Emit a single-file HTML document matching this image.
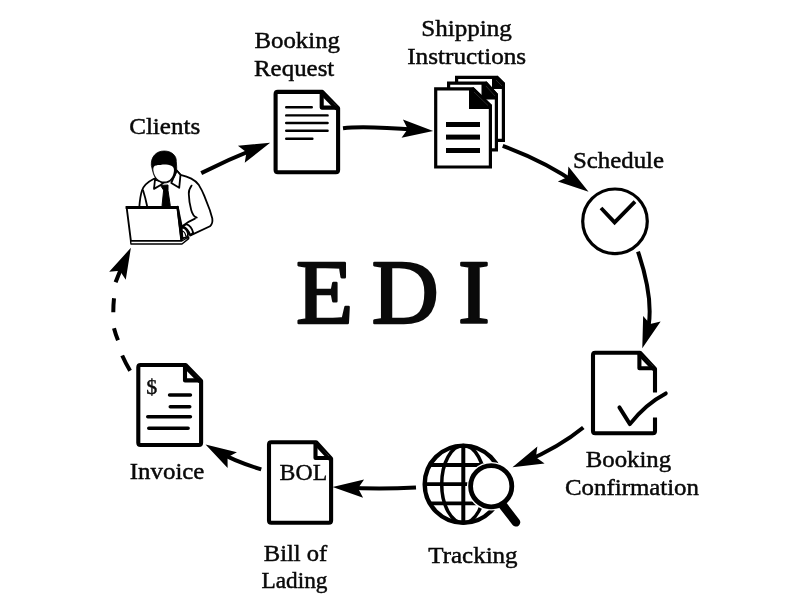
<!DOCTYPE html>
<html lang="en">
<head>
<meta charset="utf-8">
<title>EDI</title>
<style>
html,body{margin:0;padding:0;background:#fff;}
body{width:800px;height:600px;overflow:hidden;}
svg{display:block;will-change:transform;}
text{font-family:"Liberation Serif","Times New Roman",serif;fill:#0a0a0a;}
.lbl{font-size:24px;stroke:#000;stroke-width:0.45;}
.doc{fill:#fff;stroke:#000;stroke-width:4.1;stroke-linejoin:round;}
.ln{fill:none;stroke:#000;stroke-linecap:round;}
.arw{fill:none;stroke:#000;stroke-width:4;}
</style>
</head>
<body>
<svg width="800" height="600" viewBox="0 0 800 600">
<defs>
<marker id="ah" markerUnits="userSpaceOnUse" markerWidth="40" markerHeight="24" refX="20" refY="12" orient="auto" overflow="visible">
<path d="M32,12 L1,2.8 L6.5,12 L1,21.2 Z" fill="#000"/>
</marker>
</defs>
<rect width="800" height="600" fill="#fff"/>

<!-- ===== labels ===== -->
<g class="lbl">
<text x="129.2" y="134" textLength="71" lengthAdjust="spacingAndGlyphs">Clients</text>
<text x="254.5" y="47.6" textLength="85.5" lengthAdjust="spacingAndGlyphs">Booking</text>
<text x="254" y="75.5" textLength="80.3" lengthAdjust="spacingAndGlyphs">Request</text>
<text x="421.3" y="35.6" textLength="90.5" lengthAdjust="spacingAndGlyphs">Shipping</text>
<text x="407.2" y="64" textLength="119" lengthAdjust="spacingAndGlyphs">Instructions</text>
<text x="573" y="168.2" textLength="91" lengthAdjust="spacingAndGlyphs">Schedule</text>
<text x="585.7" y="467.1" textLength="85.5" lengthAdjust="spacingAndGlyphs">Booking</text>
<text x="565" y="495.2" textLength="134" lengthAdjust="spacingAndGlyphs">Confirmation</text>
<text x="428.3" y="563.2" textLength="89.3" lengthAdjust="spacingAndGlyphs">Tracking</text>
<text x="263.8" y="561.2" textLength="63.5" lengthAdjust="spacingAndGlyphs">Bill of</text>
<text x="261.5" y="587.75" textLength="66" lengthAdjust="spacingAndGlyphs">Lading</text>
<text x="129.8" y="479.2" textLength="74.6" lengthAdjust="spacingAndGlyphs">Invoice</text>
</g>

<!-- ===== EDI ===== -->
<g font-size="91px" stroke="#0a0a0a" stroke-width="2.5" stroke-linejoin="round">
<text transform="translate(296,323) scale(1.03,1)">E</text>
<text transform="translate(371.8,323) scale(1.02,1)">D</text>
<text transform="translate(458,323) scale(1.05,1)">I</text>
</g>

<!-- ===== arrows ===== -->
<g class="arw">
<path d="M201.25,173.1 Q229.3,159 259,147.2" marker-end="url(#ah)"/>
<path d="M343,128.2 C365,125.6 401,128.6 421.2,130.1" marker-end="url(#ah)"/>
<path d="M502.75,145.9 Q545,161.3 578.7,184.85" marker-end="url(#ah)"/>
<path d="M638,251.6 Q656.2,305.5 646,336.8" marker-end="url(#ah)"/>
<path d="M583.3,427.5 Q559.2,447.2 523.5,462.5" marker-end="url(#ah)"/>
<path d="M416,487.5 Q380,489.5 344.6,487.6" marker-end="url(#ah)"/>
<path d="M261.25,469.4 Q233.8,461 215.9,450.5" marker-end="url(#ah)"/>
<path d="M130.1,370.7 Q125.5,363 122.2,355.5 M118,340.3 Q115.5,334 114,328.2 M113.3,312.3 Q113.3,305 114,298.3"/>
<path d="M115.6,282.3 Q119.5,271.5 125.7,258.6" marker-end="url(#ah)"/>
</g>

<!-- ===== Booking Request doc ===== -->
<g>
<path class="doc" d="M277.8,91.9 H322.3 L338.1,108.19999999999999 V170.10000000000002 Q338.1,172.3 335.90000000000003,172.3 H277.8 Q275.6,172.3 275.6,170.10000000000002 V94.10000000000001 Q275.6,91.9 277.8,91.9 Z"/>
<path class="doc" d="M321.7,91.9 V107.6 H338.1" fill="none" stroke-linejoin="miter"/>
<path d="M321.3,93.1 L336.9,109.0" fill="none" stroke="#000" stroke-width="3.6"/>
<g class="ln" stroke-width="2.4">
<path d="M286.2,107.2 H311.8 M286.2,115.4 H327.6 M286.2,123 H327.6 M286.2,130.7 H327.6 M286.2,138.8 H312.4"/>
</g>
</g>

<!-- ===== Shipping Instructions docs ===== -->
<g stroke="#000" stroke-width="3.2" fill="#fff" stroke-linejoin="miter">
<path d="M456.6,77.4 H497 L503.4,83.6 V140.3 H456.6 Z"/>
<path d="M492,77.4 L497.6,75.8 L505,82.9 V89 H492 Z" fill="#000" stroke="none"/>
<path d="M448.6,83.1 H486 L496.4,94.6 V149.9 H448.6 Z"/>
<path d="M481.5,83 L486.6,81.5 L498,93.9 V99.5 H481.5 Z" fill="#000" stroke="none"/>
<path d="M435.7,88.8 H473 L490.4,105.6 V167 H435.7 Z"/>
<path d="M469,88.8 L473.6,87.2 L492,104.9 V109 H469 Z" fill="#000" stroke="none"/>
</g>
<g stroke="#3a3a3a" stroke-width="0.7" fill="none">
<path d="M474,92 L488,105.5 M486,86 L495,96 M496,80 L502,86"/>
</g>
<g fill="#000">
<rect x="446" y="122" width="34" height="5"/>
<rect x="446" y="134.6" width="34" height="5"/>
<rect x="446" y="148" width="34" height="5"/>
</g>

<!-- ===== Schedule clock ===== -->
<circle cx="615" cy="221.3" r="32.3" fill="#fff" stroke="#000" stroke-width="3.2"/>
<path d="M601,208 L614.6,222.4 L635,201.6" fill="none" stroke="#000" stroke-width="3.8"/>

<!-- ===== Booking Confirmation doc ===== -->
<g>
<path class="doc" d="M655,392.5 V368.8 L640.0,352.7 H595.2 Q593,352.7 593,354.9 V431.0 Q593,433.2 595.2,433.2 H652.8 Q655,433.2 655,431.0 V417.5" fill="none"/>
<path class="doc" d="M639.4,352.7 V368.2 H655" fill="none" stroke-linejoin="miter"/>
<path d="M639.0,353.9 L653.8,369.6" fill="none" stroke="#000" stroke-width="3.6"/>
<path d="M619.4,407.4 L629.9,424.1 Q645.2,404.2 665.8,393.4" fill="none" stroke="#000" stroke-width="3.9" stroke-linecap="round" stroke-linejoin="round"/>
</g>

<!-- ===== Tracking globe ===== -->
<g fill="none" stroke="#000">
<circle cx="463.3" cy="484.2" r="38.6" stroke-width="4.4"/>
<ellipse cx="463.3" cy="484.2" rx="21.6" ry="38.6" stroke-width="3.5"/>
<path d="M463.3,445 V523" stroke-width="4"/>
<path d="M424.5,484.2 H502 M431,465 H496 M431,503.4 H496" stroke-width="3.8"/>
</g>
<circle cx="491.2" cy="486.2" r="21.8" fill="#fff" stroke="#fff" stroke-width="5"/>
<circle cx="491.2" cy="486.2" r="20.6" fill="#fff" stroke="#000" stroke-width="4.8"/>
<path d="M503,505.5 L516,522.3" stroke="#000" stroke-width="8.6" stroke-linecap="round"/>

<!-- ===== BOL doc ===== -->
<g>
<path class="doc" d="M271.2,442.2 H316.1 L331.1,458.6 V520.5 Q331.1,522.7 328.90000000000003,522.7 H271.2 Q269,522.7 269,520.5 V444.4 Q269,442.2 271.2,442.2 Z"/>
<path class="doc" d="M315.5,442.2 V458 H331.1" fill="none" stroke-linejoin="miter"/>
<path d="M315.1,443.4 L329.9,459.4" fill="none" stroke="#000" stroke-width="3.6"/>
<text x="279.6" y="480.4" font-size="23.3px" textLength="47.6" lengthAdjust="spacingAndGlyphs" stroke="#000" stroke-width="0.4">BOL</text>
</g>

<!-- ===== Invoice doc ===== -->
<g>
<path class="doc" d="M140.5,365 H185.6 L201.1,381.0 V442.8 Q201.1,445 198.9,445 H140.5 Q138.3,445 138.3,442.8 V367.2 Q138.3,365 140.5,365 Z"/>
<path class="doc" d="M185,365 V380.4 H201.1" fill="none" stroke-linejoin="miter"/>
<path d="M184.6,366.2 L199.9,381.8" fill="none" stroke="#000" stroke-width="3.6"/>
<text x="146.2" y="393.9" font-size="22px" stroke="#000" stroke-width="0.4">$</text>
<g class="ln" stroke-width="3.6">
<path d="M169.6,395 H190.4 M170.3,406.7 H189.7 M147.8,416.7 H190.4 M148.8,428.3 H188.1"/>
</g>
</g>

<!-- ===== Client (person with laptop) ===== -->
<g fill="#fff" stroke="#000" stroke-width="1.8" stroke-linejoin="round" stroke-linecap="round">
<!-- body / shirt -->
<path d="M139.3,207 C140,198 141,193.5 142,190.5 C143.5,186 147,182.3 154,178.8 L176.7,170.5 L180.5,174.8 C185,176 188,177 191.3,178.6 C195,180.5 197.3,182.8 198.9,185.1 C201,188.5 203,192.5 204.3,195.9 L209.8,210 L212.3,218.5 C212.8,222 212,224.5 210,226.2 L190.5,235.4 L181.9,227 L177.75,207 Z"/>
<!-- inner arm lines -->
<path d="M143.1,190.5 Q145.5,198 147.1,206" fill="none"/>
<path d="M191.6,185.6 Q188.5,190 188.8,194 Q189,202 191.2,210 Q193,216.5 196.8,217.6" fill="none"/>
<path d="M195,218.6 Q188,221.5 181.9,226.5" fill="none"/>
<!-- cuff & hand -->
<path d="M186.2,224.2 Q191.5,226 193.2,232.8 L190.3,235.3 Q188.5,229 183,226.2 Z"/>
<path d="M181.6,227.4 Q186.5,228 188,233.5 Q188.3,236 186.5,237 L182.5,238.5 Z"/>
<path d="M182,231 Q185,231.5 185.8,236" fill="none" stroke-width="1.2"/>
<!-- collar -->
<path d="M155,179.5 L154,188.9 L160.7,185 L163.5,182.6 Z"/>
<path d="M176.7,170.5 L180.5,174.8 L179.2,187.8 L171.3,182.9 Z"/>
<!-- tie -->
<path d="M160.8,185.4 L168,185 L168,190.5 L170.2,205.1 L170.2,207 L162.1,207 L162.1,205.1 L163.6,190.5 Z" fill="#000" stroke-width="1"/>
<!-- head -->
<path d="M151.3,165 C150.8,157 156,151 164.25,151 C171.5,151 176.6,155.5 176.3,161.5 C176.6,165 176.8,168 176.7,170.8 C175.5,177.5 171,183 164.25,183 C158,182.4 154.3,178 152.8,171.5 Z" fill="#000" stroke-width="0.8"/>
<path d="M153.3,170 C153.1,167.2 154.3,165.4 156.5,165.6 C158,164.6 160,165.4 161.5,164.8 C164,164.3 168.5,164.6 171.8,165.9 C173.8,167 174.2,169 173.9,171.2 C173.3,177 170,181.6 164.25,181.6 C158.5,181.6 154.2,177 153.3,170 Z" stroke="none"/>
<!-- laptop -->
<path d="M126.6,207 L177.4,207 L181.6,241 L130.9,241 Z" stroke-width="1.9"/>
<path d="M125.7,207.4 H178" stroke-width="3" stroke-linecap="butt"/>
<path d="M177.6,207 L181.7,241.5" stroke-width="2.4" fill="none"/>
<path d="M130.6,241 L181.8,241 L188.7,236.8 L188.7,238.6 L182,244 L130.9,244 Z" stroke-width="1.4"/>
</g>
</svg>
</body>
</html>
